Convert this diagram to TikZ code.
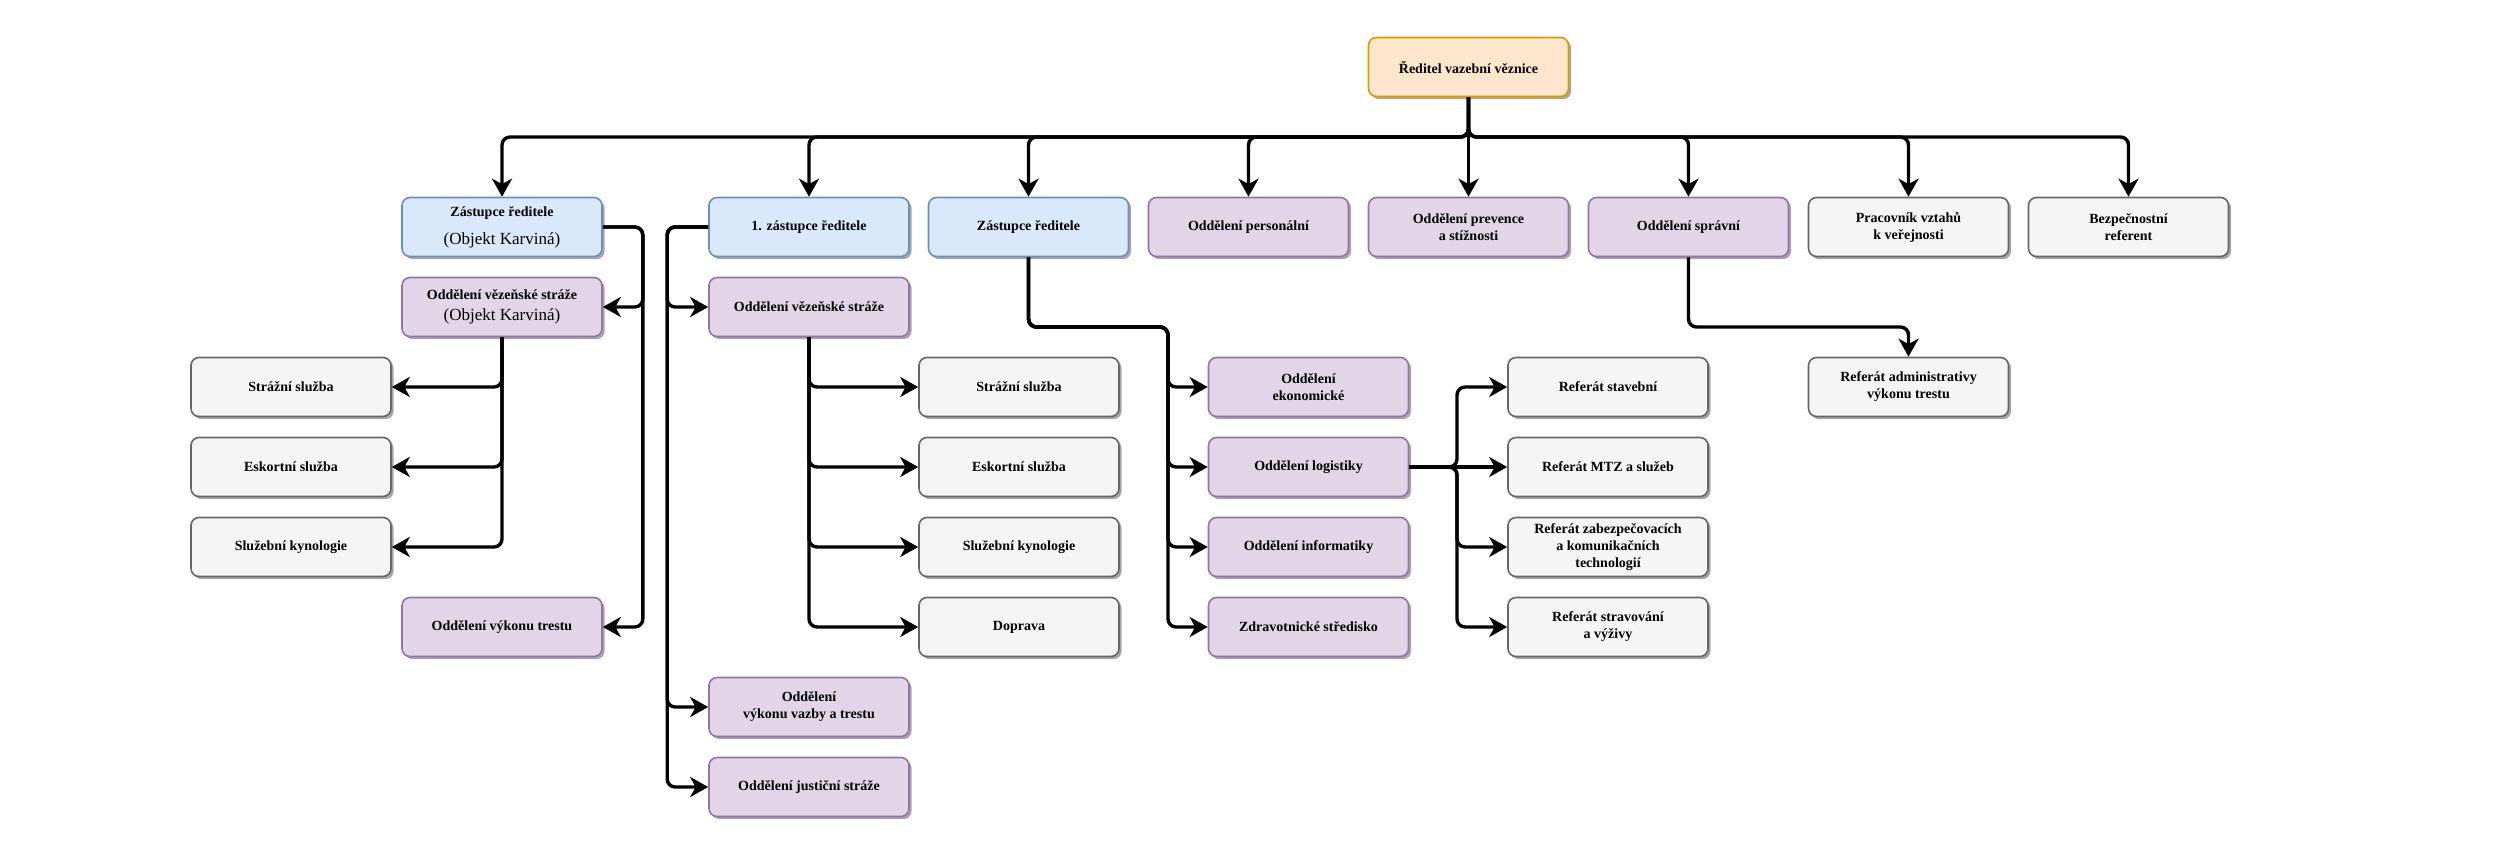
\documentclass[tikz,border=0pt]{standalone}
\usepackage{fontspec}
\setmainfont{Liberation Serif}
\usetikzlibrary{arrows.meta,shadows}
\definecolor{orF}{HTML}{FFE6CC}\definecolor{orD}{HTML}{D79B00}
\definecolor{blF}{HTML}{DAE8FC}\definecolor{blD}{HTML}{6C8EBF}
\definecolor{puF}{HTML}{E1D5E7}\definecolor{puD}{HTML}{9673A6}
\definecolor{grF}{HTML}{F5F5F5}\definecolor{grD}{HTML}{666666}
\tikzset{
  box/.style={rounded corners=4pt, minimum width=100pt, minimum height=29.5pt,
    line width=0.8pt, align=center, inner sep=1pt,
    font=\fontsize{7}{8.5}\selectfont\bfseries,
    drop shadow={shadow xshift=1.3pt, shadow yshift=-1.3pt, fill=black, opacity=0.35}},
  orbox/.style={box, fill=orF, draw=orD},
  blbox/.style={box, fill=blF, draw=blD},
  pubox/.style={box, fill=puF, draw=puD},
  grbox/.style={box, fill=grF, draw=grD},
  conn/.style={line width=1.7pt, rounded corners=4pt,
    -{Stealth[length=9pt,width=10pt,inset=2.7pt]}}
}
\begin{document}
\begin{tikzpicture}[x=0.5pt,y=-0.5pt]
\useasboundingbox (0,0) rectangle (2500,856);
% top
\node[orbox] (top) at (1468.5,67) {Ředitel vazební věznice};
% row 1
\node[blbox] (z1) at (502,227) {\raisebox{-1.5pt}{\begin{tabular}{@{}c@{}}Zástupce ředitele\\[5.5pt]{\fontsize{8.5}{10}\selectfont\mdseries (Objekt Karviná)}\end{tabular}}};
\node[blbox] (z2) at (809,227) {1. zástupce ředitele};
\node[blbox] (z3) at (1028.5,227) {Zástupce ředitele};
\node[pubox] (per) at (1248.5,227) {Oddělení personální};
\node[pubox] (prev) at (1468.5,227) {Oddělení prevence\\a stížnosti};
\node[pubox] (spr) at (1688.5,227) {Oddělení správní};
\node[grbox] (prac) at (1908.5,227) {Pracovník vztahů\\k veřejnosti};
\node[grbox] (bez) at (2128.5,227) {Bezpečnostní\\referent};
% row 2
\node[pubox] (vKar) at (502,307) {Oddělení vězeňské stráže\\[2pt]{\fontsize{8.5}{10}\selectfont\mdseries (Objekt Karviná)}};
\node[pubox] (v2) at (809,307) {Oddělení vězeňské stráže};
% left column
\node[grbox] (strK) at (291,387) {Strážní služba};
\node[grbox] (eskK) at (291,467) {Eskortní služba};
\node[grbox] (kynK) at (291,547) {Služební kynologie};
\node[pubox] (vytr) at (502,627) {Oddělení výkonu trestu};
% second column
\node[grbox] (str2) at (1019,387) {Strážní služba};
\node[grbox] (esk2) at (1019,467) {Eskortní služba};
\node[grbox] (kyn2) at (1019,547) {Služební kynologie};
\node[grbox] (dop) at (1019,627) {Doprava};
\node[pubox] (vvt) at (809,707) {Oddělení\\výkonu vazby a trestu};
\node[pubox] (jus) at (809,787) {Oddělení justiční stráže};
% third column
\node[pubox] (ek) at (1308.5,387) {Oddělení\\ekonomické};
\node[pubox] (log) at (1308.5,467) {Oddělení logistiky};
\node[pubox] (inf) at (1308.5,547) {Oddělení informatiky};
\node[pubox] (zdr) at (1308.5,627) {Zdravotnické středisko};
% fourth column
\node[grbox] (rs) at (1608,387) {Referát stavební};
\node[grbox] (rmtz) at (1608,467) {Referát MTZ a služeb};
\node[grbox] (rzab) at (1608,547) {Referát zabezpečovacích\\a komunikačních\\technologií};
\node[grbox] (rstr) at (1608,627) {Referát stravování\\a výživy};
\node[grbox] (radm) at (1908.5,387) {Referát administrativy\\výkonu trestu};
% bus coordinates
\coordinate (bus) at (1468.5,137);
\coordinate (z3a) at (1168,327);
\coordinate (lg) at (1457,467);
\coordinate (spa) at (1908.5,327);
% connectors from top
\foreach \t in {z1,z2,z3,per,spr,prac,bez}
  \draw[conn] (top.south) -- (bus) -| (\t.north);
\draw[conn] (top.south) -- (prev.north);
% Zástupce (Karviná)
\draw[conn] (z1.east) -- ++(40,0) |- (vKar.east);
\draw[conn] (z1.east) -- ++(40,0) |- (vytr.east);
\foreach \t in {strK,eskK,kynK}
  \draw[conn] (vKar.south) |- (\t.east);
% 1. zástupce
\foreach \t in {v2,vvt,jus}
  \draw[conn] (z2.west) -- ++(-41,0) |- (\t.west);
\foreach \t in {str2,esk2,kyn2,dop}
  \draw[conn] (v2.south) |- (\t.west);
% Zástupce ředitele
\foreach \t in {ek,log,inf,zdr}
  \draw[conn] (z3.south) |- (z3a) |- (\t.west);
% logistika
\foreach \t in {rs,rzab,rstr}
  \draw[conn] (log.east) -- (lg) |- (\t.west);
\draw[conn] (log.east) -- (rmtz.west);
% správní
\draw[conn] (spr.south) |- (spa) -- (radm.north);
\end{tikzpicture}
\end{document}
